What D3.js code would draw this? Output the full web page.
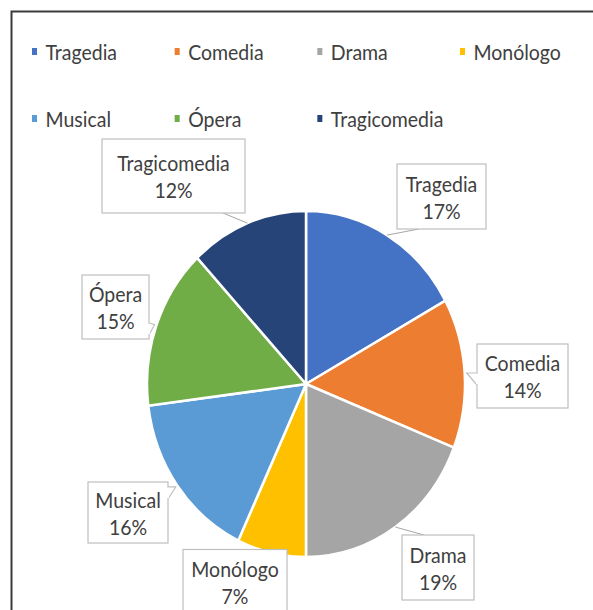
<!DOCTYPE html>
<html>
<head>
<meta charset="utf-8">
<script src="https://cdn.jsdelivr.net/npm/d3@7"></script>
<style>
  body { margin: 0; background: #fff; }
  text { font-family: Lato, "Open Sans", sans-serif; fill: #404040; }
</style>
</head>
<body>
<div id="chart"></div>
<script>
// Data
const categories = ['Tragedia', 'Comedia', 'Drama', 'Monólogo', 'Musical', 'Ópera', 'Tragicomedia'];
const percentages = [17, 14, 19, 7, 16, 15, 12];
const colors = ['#4472C4', '#ED7D31', '#A5A5A5', '#FFC000', '#5B9BD5', '#70AD47', '#264478'];

// Label layout (box centre relative to pie centre, size, pointer type)
const labelLayout = [
    { dx: 135.5, dy: -187.5, w: 89, h: 65, leader: 'line' },
    { dx: 216.5, dy: -8, w: 91, h: 64, leader: 'wedge' },
    { dx: 132, dy: 183.5, w: 72, h: 65, leader: 'line' },
    { dx: -71, dy: 198, w: 104, h: 65, leader: 'none' },
    { dx: -178, dy: 128.5, w: 80, h: 61, leader: 'wedge' },
    { dx: -190.5, dy: -77, w: 67, h: 64, leader: 'wedge' },
    { dx: -132.5, dy: -208, w: 143, h: 74, leader: 'line' }
];

const width = 593;
const height = 610;
const SY = 1.088;          // picture is stretched vertically
const cx = 306, cy = 384;  // pie centre
const radius = 159;
const fontSize = 19.5;

const svg = d3.select('#chart')
    .append('svg')
    .attr('width', width)
    .attr('height', height);

// Chart area border (only top and left are in view)
svg.append('path')
    .attr('d', 'M11.5,700 V11.5 H700')
    .attr('fill', 'none')
    .attr('stroke', '#3a3a3a')
    .attr('stroke-width', 2);

const color = d3.scaleOrdinal().domain(categories).range(colors);

// Legend
const legendX = d3.scalePoint().domain(d3.range(4)).range([32, 460]);
const legendY = d3.scalePoint().domain([0, 1]).range([60, 127]);

const legend = svg.append('g')
    .selectAll('g')
    .data(categories)
    .enter()
    .append('g')
    .attr('transform', (d, i) => `translate(${legendX(i % 4)},${legendY(Math.floor(i / 4))})`);

legend.append('rect')
    .attr('x', 0)
    .attr('y', -12)
    .attr('width', 5)
    .attr('height', 7)
    .attr('fill', d => color(d));

legend.append('text')
    .attr('transform', `translate(13.5,0) scale(1,${SY})`)
    .style('font-size', fontSize + 'px')
    .text(d => d);

// Pie
const pie = d3.pie().sort(null).value(d => d);
const arcs = pie(percentages);
const arc = d3.arc().innerRadius(0).outerRadius(radius);

svg.append('g')
    .attr('transform', `translate(${cx},${cy}) scale(1,${SY})`)
    .selectAll('path')
    .data(arcs)
    .enter()
    .append('path')
    .attr('d', arc)
    .attr('fill', (d, i) => colors[i])
    .attr('stroke', '#fff')
    .attr('stroke-width', 2.5)
    .attr('vector-effect', 'non-scaling-stroke');

// Point on the pie edge at the middle of a slice, in screen coords
function edgePoint(d, extra) {
    const a = (d.startAngle + d.endAngle) / 2;
    const r = radius + (extra || 0);
    return [cx + r * Math.sin(a), cy - r * Math.cos(a) * SY];
}

const labels = svg.append('g');

arcs.forEach((d, i) => {
    const L = labelLayout[i];
    const bx = cx + L.dx, by = cy + L.dy;
    const x0 = bx - L.w / 2, x1 = bx + L.w / 2;
    const y0 = by - L.h / 2, y1 = by + L.h / 2;

    if (L.leader === 'line') {
        const p = edgePoint(d, 0);
        let ax = Math.max(x0, Math.min(x1, p[0]));
        const ay = p[1] > y1 ? y1 : y0;
        ax += ax <= bx ? 22 : -22;
        labels.append('line')
            .attr('x1', p[0]).attr('y1', p[1])
            .attr('x2', ax).attr('y2', ay)
            .attr('stroke', '#a6a6a6')
            .attr('stroke-width', 1);
    }

    labels.append('rect')
        .attr('x', x0)
        .attr('y', y0)
        .attr('width', L.w)
        .attr('height', L.h)
        .attr('fill', '#fff')
        .attr('stroke', '#bfbfbf')
        .attr('stroke-width', 1.2);

    if (L.leader === 'wedge') {
        const p = edgePoint(d, 2);
        const side = p[0] < x0 ? x0 : x1;
        const mid = Math.max(y0 + 10, Math.min(y1 - 10, p[1] + 6));
        labels.append('path')
            .attr('d', `M${side},${mid - 6} L${p[0]},${p[1]} L${side},${mid + 6}`)
            .attr('fill', '#fff')
            .attr('stroke', '#bfbfbf')
            .attr('stroke-width', 1.2);
        labels.append('line')
            .attr('x1', side).attr('y1', mid - 5.3)
            .attr('x2', side).attr('y2', mid + 5.3)
            .attr('stroke', '#fff')
            .attr('stroke-width', 2);
    }

    const t = labels.append('g').attr('text-anchor', 'middle').style('font-size', fontSize + 'px');
    t.append('text')
        .attr('transform', `translate(${bx},${by - 5}) scale(1,${SY})`)
        .text(categories[i]);
    t.append('text')
        .attr('transform', `translate(${bx},${by + 22}) scale(1,${SY})`)
        .text(percentages[i] + '%');
});
</script>
</body>
</html>
